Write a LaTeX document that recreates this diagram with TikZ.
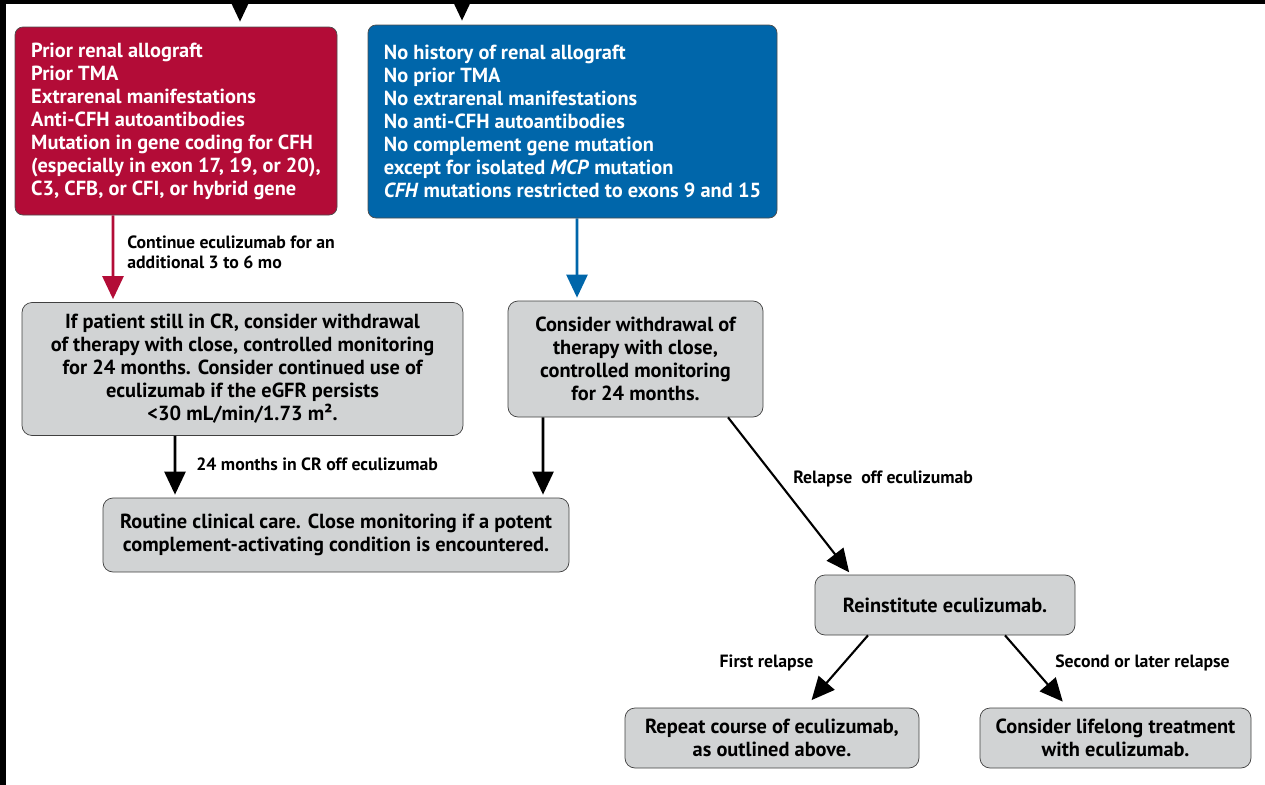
\documentclass[tikz,border=0pt]{standalone}
\usepackage{fontspec}
\setmainfont{PT Sans}
\usetikzlibrary{arrows.meta}
\definecolor{boxred}{RGB}{179,12,55}
\definecolor{boxblue}{RGB}{0,102,170}
\definecolor{boxgrey}{RGB}{209,211,212}
\begin{document}
\begin{tikzpicture}[every node/.style={font=\bfseries\fontsize{11.6}{13.1}\selectfont},
  colbox/.style={draw=black!70, text=white, rounded corners=0.16cm, align=left, inner sep=0pt},
  greybox/.style={draw=black!75, fill=boxgrey, rounded corners=0.2cm, align=center, inner sep=0pt},
  lbl/.style={font=\bfseries\fontsize{10.1}{11.3}\selectfont, align=left, inner sep=0pt},
  arr/.style={line width=1.5pt, -{Triangle[length=0.46cm,width=0.42cm]}}]
  \useasboundingbox (0,0) rectangle (25.3,-15.7);
  \fill (0,0) rectangle (25.3,-0.08);
  \fill (0,0) rectangle (0.11,-15.7);
  \node[colbox, fill=boxred, minimum width=6.44cm, minimum height=3.76cm] (red) at (3.52,-2.42)
    {Prior renal allograft\\Prior TMA\\Extrarenal manifestations\\Anti-CFH autoantibodies\\Mutation in gene coding for CFH\\(especially in exon 17, 19, or 20),\\C3, CFB, or CFI, or hybrid gene};
  \node[colbox, fill=boxblue, minimum width=8.18cm, minimum height=3.86cm] (blue) at (11.45,-2.43)
    {No history of renal allograft\\No prior TMA\\No extrarenal manifestations\\No anti-CFH autoantibodies\\No complement gene mutation\\except for isolated \textit{MCP} mutation\\\textit{CFH} mutations restricted to exons 9 and 15};
  \node[greybox, minimum width=8.82cm, minimum height=2.66cm] (cr) at (4.85,-7.38)
    {If patient still in CR, consider withdrawal\\of therapy with close, controlled monitoring\\for 24 months. Consider continued use of\\eculizumab if the eGFR persists\\<30 mL/min/1.73 m².};
  \node[greybox, minimum width=5.1cm, minimum height=2.32cm] (wd) at (12.71,-7.18)
    {Consider withdrawal of\\therapy with close,\\controlled monitoring\\for 24 months.};
  \node[greybox, minimum width=9.32cm, minimum height=1.48cm] (care) at (6.72,-10.7)
    {Routine clinical care. Close monitoring if a potent\\complement-activating condition is encountered.};
  \node[greybox, minimum width=5.2cm, minimum height=1.2cm] (re) at (18.9,-12.1)
    {Reinstitute eculizumab.};
  \node[greybox, minimum width=5.88cm, minimum height=1.2cm] (rep) at (15.44,-14.76)
    {Repeat course of eculizumab,\\as outlined above.};
  \node[greybox, minimum width=5.42cm, minimum height=1.2cm] (life) at (22.31,-14.76)
    {Consider lifelong treatment\\with eculizumab.};
  \coordinate (inred) at (4.8,-0.08);
  \coordinate (inblue) at (9.24,-0.08);
  \draw[arr, shorten >=0.1cm] (inred) -- (inred |- red.north);
  \draw[arr, shorten >=0.08cm] (inblue) -- (inblue |- blue.north);
  \draw[arr, boxred, shorten >=0.06cm] ([xshift=-1.26cm]red.south) -- ([xshift=-2.59cm]cr.north);
  \draw[arr, boxblue, shorten >=0.06cm] ([xshift=0.09cm]blue.south) -- ([xshift=-1.17cm]wd.north);
  \draw[arr, shorten >=0.06cm] ([xshift=-1.35cm]cr.south) -- ([xshift=-3.22cm]care.north);
  \draw[arr, shorten >=0.06cm] ([xshift=-1.85cm]wd.south) -- ([xshift=4.14cm]care.north);
  \draw[arr, line width=1.2pt, shorten >=0.06cm] ([xshift=1.85cm]wd.south) -- ([xshift=-1.88cm]re.north);
  \draw[arr, line width=1.2pt, shorten >=0.2cm] ([xshift=-1.54cm]re.south) -- ([xshift=0.66cm]rep.north);
  \draw[arr, line width=1.2pt, shorten >=0.16cm] ([xshift=1.2cm]re.south) -- ([xshift=-0.95cm]life.north);
  \node[lbl, anchor=west] (l1) at (2.54,-5.04) {Continue eculizumab for an\\additional 3 to 6 mo};
  \node[lbl, anchor=west] (l2) at (3.92,-9.28) {24 months in CR off eculizumab};
  \node[lbl, anchor=west] (l3) at (15.86,-9.58) {Relapse\ \ off eculizumab};
  \node[lbl] (l4) at (15.33,-13.26) {First relapse};
  \node[lbl] (l5) at (22.85,-13.26) {Second or later relapse};
\end{tikzpicture}
\end{document}
